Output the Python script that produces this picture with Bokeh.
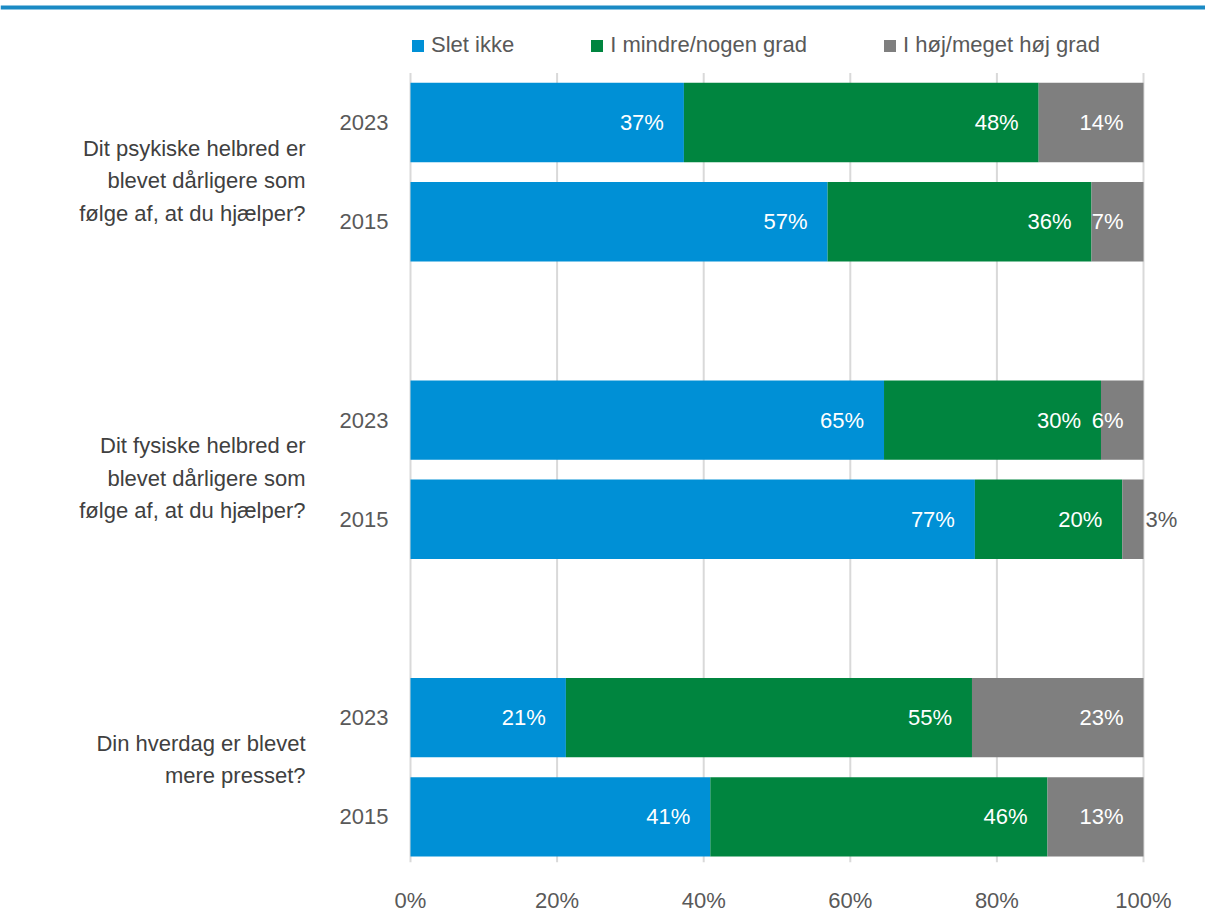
from bokeh.plotting import figure
from bokeh.models import ColumnDataSource, Range1d, FixedTicker, Legend, LegendItem, Span
from bokeh.embed import file_html
from bokeh.resources import INLINE
from bokeh.core.properties import value

# ---- data ----
questions = [
    "Dit psykiske helbred er\nblevet dårligere som\nfølge af, at du hjælper?",
    "Dit fysiske helbred er\nblevet dårligere som\nfølge af, at du hjælper?",
    "Din hverdag er blevet\nmere presset?",
]
years = ["2023", "2015"]
series = ["Slet ikke", "I mindre/nogen grad", "I høj/meget høj grad"]
# rows: q1-2023, q1-2015, q2-2023, q2-2015, q3-2023, q3-2015
slet_ikke = [37.3, 56.9, 64.6, 77.0, 21.2, 40.9]
mindre = [48.4, 36.0, 29.6, 20.1, 55.4, 46.0]
hoej = [14.3, 7.1, 5.8, 2.9, 23.4, 13.1]
x_ticks = [0, 20, 40, 60, 80, 100]
x_tick_labels = ["0%", "20%", "40%", "60%", "80%", "100%"]

colors = ["#0090D6", "#00853F", "#7F7F7F"]
FONT = "Liberation Sans"
FS = "22px"
TXT = "#595959"

# ---- layout geometry (pixels) ----
W, H = 1205, 915
PLOT_LEFT, PLOT_RIGHT = 410, 1143       # 0% and 100%
GRID_TOP, BOTTOM_BORDER = 73, 46
ROW_PX = 100.0
px_per_pct = (PLOT_RIGHT - PLOT_LEFT) / 100.0
frame_h = H - BOTTOM_BORDER

x_start = -PLOT_LEFT / px_per_pct
x_end = 100 + (W - PLOT_RIGHT) / px_per_pct
y_top = -GRID_TOP / ROW_PX
y_bottom = (frame_h - GRID_TOP) / ROW_PX

# ---- positions ----
row_y, row_year = [], []
for g in range(len(questions)):
    for k, yr in enumerate(years):
        row_y.append(3 * g + k + 0.5)
        row_year.append(yr)

src = ColumnDataSource(dict(y=row_y, s0=slet_ikke, s1=mindre, s2=hoej))

p = figure(width=W, height=H, output_backend="svg", toolbar_location=None,
           x_range=Range1d(x_start, x_end), y_range=Range1d(y_bottom, y_top),
           min_border_left=0, min_border_right=0, min_border_top=0, min_border_bottom=BOTTOM_BORDER)
p.outline_line_color = None
p.background_fill_color = "white"
p.border_fill_color = "white"
p.xgrid.grid_line_color = None
p.ygrid.grid_line_color = None
p.yaxis.visible = False

# grid lines (drawn only over the plot region)
p.segment(x0=x_ticks, x1=x_ticks, y0=[0] * len(x_ticks), y1=[y_bottom] * len(x_ticks),
          line_color="#D9D9D9", line_width=2)

renderers = p.hbar_stack(["s0", "s1", "s2"], y="y", height=0.8, color=colors, source=src,
                         line_color=None)

# value labels
in_x, in_y, in_t, out_x, out_y, out_t = [], [], [], [], [], []
for i, y in enumerate(row_y):
    cum = 0
    for vals in (slet_ikke, mindre, hoej):
        v = vals[i]
        cum += v
        lab = f"{round(v)}%"
        if v < 4:
            out_x.append(cum); out_y.append(y); out_t.append(lab)
        else:
            in_x.append(cum); in_y.append(y); in_t.append(lab)

p.text(x=in_x, y=in_y, text=in_t, text_align="right", text_baseline="middle", x_offset=-20,
       text_color="white", text_font=value(FONT), text_font_size=FS)
p.text(x=out_x, y=out_y, text=out_t, text_align="left", text_baseline="middle", x_offset=2,
       text_color=TXT, text_font=value(FONT), text_font_size=FS)

# year labels
p.text(x=[0] * len(row_y), y=row_y, text=row_year, text_align="right", text_baseline="middle",
       x_offset=-22, text_color=TXT, text_font=value(FONT), text_font_size=FS)

# question labels
p.text(x=[0] * len(questions), y=[3 * g + 0.5 for g in range(len(questions))], text=questions,
       text_align="right", text_baseline="top", x_offset=-105, y_offset=13,
       text_line_height=1.3, text_color="#404040", text_font=value(FONT), text_font_size=FS)

# x axis
p.xaxis.ticker = FixedTicker(ticks=x_ticks)
p.xaxis.major_label_overrides = dict(zip(x_ticks, x_tick_labels))
p.xaxis.axis_line_color = None
p.xaxis.major_tick_line_color = None
p.xaxis.minor_tick_line_color = None
p.xaxis.major_label_standoff = 19
p.xaxis.major_label_text_font = FONT
p.xaxis.major_label_text_font_size = FS
p.xaxis.major_label_text_color = TXT

# top rule
p.add_layout(Span(location=(7 - GRID_TOP) / ROW_PX, dimension="width",
                  line_color="#1B8AC4", line_width=4))

# legend (location = bottom-left corner, pixels from the frame's bottom-left)
LEG_CENTER_Y, LEG_H = 52, 30
legend = Legend(items=[LegendItem(label=s, renderers=[r]) for s, r in zip(series, renderers)],
                orientation="horizontal", location=(PLOT_LEFT, frame_h - LEG_CENTER_Y - LEG_H / 2),
                spacing=75, padding=0, margin=0, glyph_width=15, glyph_height=15, label_standoff=6,
                label_height=LEG_H,
                label_text_font=FONT, label_text_font_size=FS, label_text_color=TXT,
                border_line_alpha=0, background_fill_alpha=0)
p.add_layout(legend, "center")

open("out.html", "w").write(file_html(p, INLINE))
